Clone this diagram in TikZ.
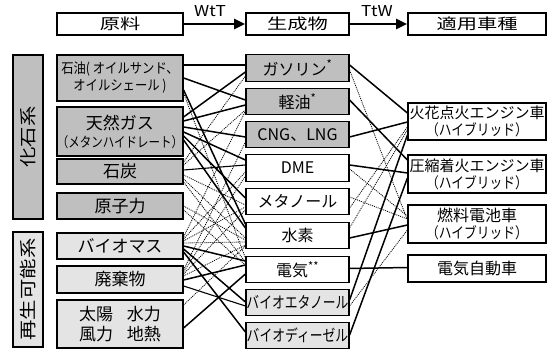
\documentclass[tikz,border=0pt]{standalone}
\usepackage{fontspec}
\setmainfont{Noto Sans CJK JP}
\usepackage{graphicx}
\usetikzlibrary{calc,arrows.meta}
\definecolor{dgray}{HTML}{BFBFBF}
\definecolor{lgray}{HTML}{E4E4E4}
\newcommand{\sx}[2]{\scalebox{#1}[1]{#2}}
\newcommand{\myline}[5]{\draw[#1] ($(#2.east)+(0,#3)$) -- ($(#4.west)+(0,#5)$);}
\begin{document}
\begin{tikzpicture}[x=1pt,y=-1pt,
  box/.style={draw=black, line width=1.2pt, inner sep=0pt, align=center},
  hdrbox/.style={draw=black, line width=1.9pt, inner sep=0pt, minimum height=22pt, fill=white, font=\fontsize{15}{16}\selectfont},
  catbox/.style={draw=black, line width=1.9pt, inner sep=0pt, rotate=90, minimum height=30pt, font=\fontsize{17}{19}\selectfont},
  rawbox/.style={box, minimum width=126pt, font=\fontsize{17}{19}\selectfont},
  prodbox/.style={box, minimum width=103pt, minimum height=26.5pt, font=\fontsize{16}{18}\selectfont},
  vehbox/.style={box, minimum width=138pt, fill=white, font=\fontsize{15}{17}\selectfont},
  solidc/.style={line width=1.5pt, black},
  thinc/.style={line width=1.1pt, black},
  dotc/.style={line width=0.8pt, black, dash pattern=on 1pt off 1pt},
  arr/.style={line width=2.5pt, -{Triangle[length=11pt,width=10pt]}},
  lbl/.style={inner sep=0pt, font=\fontsize{15}{15}\selectfont}
]
\useasboundingbox (0,0) rectangle (552,352);
\fill[white] (0,0) rectangle (552,352);

% headers
\node[hdrbox, minimum width=126pt] (h1) at (120,24) {\sx{1.35}{原料}};
\node[hdrbox, minimum width=103pt] (h2) at (297.5,24) {\sx{1.35}{生成物}};
\node[hdrbox, minimum width=138pt] (h3) at (477,24) {\sx{1.35}{適用車種}};
\draw[arr] (h1.east) -- (h2.west);
\draw[arr] (h2.east) -- (h3.west);
\node[lbl] (wtt) at (210,11) {\sx{1.15}{WtT}};
\node[lbl] (ttw) at (377,11) {\sx{1.15}{TtW}};

% categories
\node[catbox, fill=dgray, minimum width=164pt] (c1) at (28,137) {\sx{1.2}{化石系}};
\node[catbox, fill=lgray, minimum width=115pt] (c2) at (28,289.5) {\sx{1.2}{再生可能系}};

% raw materials
\node[rawbox, fill=dgray, minimum height=46pt, font=\fontsize{14}{17}\selectfont] (r1) at (120,78)
  {\sx{0.88}{石油( オイルサンド、}\\\sx{0.88}{オイルシェール )}};
\node[rawbox, fill=dgray, minimum height=49pt] (r2) at (120,131.5)
  {天然ガス\\[-1pt]{\fontsize{14}{16}\selectfont\sx{0.82}{（メタンハイドレート）}}};
\node[rawbox, fill=dgray, minimum height=25pt] (r3) at (120,171.5) {石炭};
\node[rawbox, fill=dgray, minimum height=26pt] (r4) at (120,206) {原子力};
\node[rawbox, fill=lgray, minimum height=26pt] (r5) at (120,246) {バイオマス};
\node[rawbox, fill=lgray, minimum height=27pt] (r6) at (120,279.5) {廃棄物};
\node[rawbox, fill=lgray, minimum height=48pt, font=\fontsize{17}{20}\selectfont] (r7) at (120,324)
  {太陽\hspace{0.8em}水力\\風力\hspace{0.8em}地熱};

% products
\node[prodbox, fill=dgray] (p1) at (297.5,68) {ガソリン\textsuperscript{*}};
\node[prodbox, fill=dgray] (p2) at (297.5,101.5) {軽油\textsuperscript{*}};
\node[prodbox, fill=dgray] (p3) at (297.5,134.5) {CNG、LNG};
\node[prodbox, fill=white] (p4) at (297.5,168) {DME};
\node[prodbox, fill=white] (p5) at (297.5,201.5) {メタノール};
\node[prodbox, fill=white] (p6) at (297.5,235.5) {水素};
\node[prodbox, fill=white] (p7) at (297.5,269.5) {電気\textsuperscript{**}};
\node[prodbox, fill=lgray] (p8) at (297.5,302.5) {\sx{0.8}{バイオエタノール}};
\node[prodbox, fill=lgray] (p9) at (297.5,335.5) {\sx{0.8}{バイオディーゼル}};

% vehicles
\node[vehbox, minimum height=37pt] (v1) at (477,121.5)
  {火花点火エンジン車\\\sx{0.85}{（ハイブリッド）}};
\node[vehbox, minimum height=38pt] (v2) at (477,174)
  {圧縮着火エンジン車\\\sx{0.85}{（ハイブリッド）}};
\node[vehbox, minimum height=38pt] (v3) at (477,224)
  {{\fontsize{16}{17}\selectfont 燃料電池車}\\\sx{0.85}{（ハイブリッド）}};
\node[vehbox, minimum height=27pt, font=\fontsize{16}{18}\selectfont] (v4) at (477,268.5) {電気自動車};

% WtT connectors
\myline{dotc}{r1}{15}{p7}{-11.5}
\myline{dotc}{r3}{-9.5}{p1}{8}
\myline{dotc}{r3}{-6.5}{p2}{8.5}
\myline{dotc}{r3}{3.5}{p5}{3.5}
\myline{dotc}{r3}{7.5}{p6}{2.5}
\myline{dotc}{r3}{10.5}{p7}{-7.5}
\myline{dotc}{r4}{0}{p6}{4.5}
\myline{dotc}{r4}{4}{p7}{-4.5}
\myline{dotc}{r5}{-9}{p2}{9.5}
\myline{dotc}{r5}{-7}{p4}{4}
\myline{dotc}{r5}{-5}{p5}{5.5}
\myline{dotc}{r5}{-3}{p6}{6.5}
\myline{dotc}{r6}{-9.5}{p3}{7.5}
\myline{dotc}{r6}{-7.5}{p4}{8}
\myline{dotc}{r6}{-5.5}{p5}{8.5}
\myline{dotc}{r6}{-3.5}{p6}{9.5}
\myline{dotc}{r7}{-19}{p6}{10.5}
\myline{solidc}{r1}{-13}{p1}{-3}
\myline{solidc}{r1}{0}{p2}{-1.5}
\myline{solidc}{r1}{12}{p6}{-11.5}
\myline{solidc}{r2}{-14.5}{p1}{4}
\myline{solidc}{r2}{-10.5}{p2}{3.5}
\myline{solidc}{r2}{-4.5}{p3}{2.5}
\myline{solidc}{r2}{0.5}{p4}{-8}
\myline{solidc}{r2}{4.5}{p5}{-3.5}
\myline{solidc}{r2}{8.5}{p6}{-7.5}
\myline{thinc}{r3}{-1.5}{p4}{-3}
\myline{solidc}{r5}{0}{p7}{-8.5}
\myline{solidc}{r5}{3}{p8}{-0.5}
\myline{solidc}{r5}{6}{p9}{-3.5}
\myline{solidc}{r6}{0.5}{p7}{-4.5}
\myline{thinc}{r6}{6.5}{p8}{3.5}
\myline{solidc}{r7}{4}{p7}{4.5}

% TtW connectors
\myline{dotc}{p1}{2}{v3}{-4}
\myline{dotc}{p4}{1}{v3}{-8}
\myline{dotc}{p5}{6.5}{v1}{5.5}
\myline{dotc}{p5}{-4.5}{v3}{-5}
\myline{dotc}{p6}{-7.5}{v1}{8.5}
\myline{dotc}{p8}{3.5}{v3}{6}
\myline{solidc}{p1}{-3}{v1}{-8.5}
\myline{solidc}{p2}{-1.5}{v2}{-14}
\myline{solidc}{p3}{2.5}{v1}{0.5}
\myline{solidc}{p4}{-3}{v2}{-1}
\myline{solidc}{p6}{2.5}{v3}{1}
\myline{solidc}{p7}{-1}{v4}{-1}
\myline{solidc}{p8}{-2.5}{v1}{13.5}
\myline{solidc}{p9}{-0.5}{v2}{4}
\end{tikzpicture}
\end{document}
